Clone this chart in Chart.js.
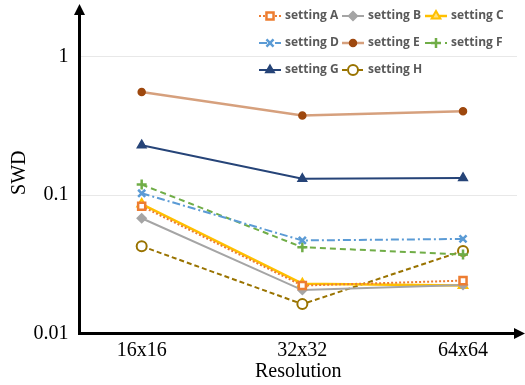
<!DOCTYPE html>
<html>
<head>
<meta charset="utf-8">
<script src="https://cdn.jsdelivr.net/npm/chart.js@4/dist/chart.umd.min.js"></script>
<style>
  html, body { margin: 0; padding: 0; background: #fff; }
  #wrap { width: 525px; height: 385px; }
</style>
</head>
<body>
<div id="wrap"><canvas id="swdChart" width="525" height="385"></canvas></div>
<script>
// Dados
const categories = ['16x16', '32x32', '64x64'];
const tickValues = [0.01, 0.1, 1];
const tickLabels = ['0.01', '0.1', '1'];

const settingA = [0.083, 0.0222, 0.0241];
const settingB = [0.068, 0.0206, 0.0224];
const settingC = [0.086, 0.0229, 0.0222];
const settingD = [0.103, 0.047, 0.0482];
const settingE = [0.556, 0.375, 0.403];
const settingF = [0.119, 0.042, 0.0372];
const settingG = [0.229, 0.131, 0.133];
const settingH = [0.0427, 0.0163, 0.0395];

function pts(arr) {
    return arr.map((v, i) => ({ x: i, y: v }));
}

// Legenda em grade de 3 colunas
const gridLegend = {
    id: 'gridLegend',
    afterDraw(chart) {
        const ctx = chart.ctx;
        const colX = [259, 342, 425];
        const rowY = [16, 43, 70];
        chart.data.datasets.forEach((ds, i) => {
            const x0 = colX[i % 3];
            const y = rowY[Math.floor(i / 3)];
            ctx.save();
            ctx.strokeStyle = ds.borderColor;
            ctx.lineWidth = ds.borderWidth;
            ctx.setLineDash(ds.borderDash || []);
            ctx.beginPath();
            ctx.moveTo(x0, y);
            ctx.lineTo(x0 + 22, y);
            ctx.stroke();
            ctx.setLineDash([]);
            ctx.fillStyle = ds.pointBackgroundColor;
            ctx.strokeStyle = ds.pointBorderColor;
            ctx.lineWidth = ds.pointBorderWidth;
            Chart.helpers.drawPoint(ctx, {
                pointStyle: ds.pointStyle,
                radius: ds.pointRadius,
                borderWidth: ds.pointBorderWidth,
                rotation: 0
            }, x0 + 11, y);
            ctx.fillStyle = '#595959';
            ctx.font = 'bold 12px "Open Sans"';
            ctx.textBaseline = 'middle';
            ctx.textAlign = 'left';
            ctx.fillText(ds.label, x0 + 26, y);
            ctx.restore();
        });
    }
};

// Setas dos eixos
const axisArrows = {
    id: 'axisArrows',
    afterDraw(chart) {
        const ctx = chart.ctx;
        const a = chart.chartArea;
        ctx.save();
        ctx.fillStyle = '#000';
        ctx.beginPath();
        ctx.moveTo(a.left, 4);
        ctx.lineTo(a.left - 5.5, 15);
        ctx.lineTo(a.left + 5.5, 15);
        ctx.closePath();
        ctx.fill();
        ctx.fillRect(a.left - 1.5, 14, 3, a.top - 13);
        ctx.beginPath();
        ctx.moveTo(525, a.bottom);
        ctx.lineTo(514, a.bottom - 5.5);
        ctx.lineTo(514, a.bottom + 5.5);
        ctx.closePath();
        ctx.fill();
        ctx.fillRect(a.right - 1, a.bottom - 1.5, 514 - a.right + 2, 3);
        ctx.restore();
    }
};

function serie(label, data, color, opts) {
    return Object.assign({
        label: label,
        data: pts(data),
        borderColor: color,
        borderWidth: 2,
        pointBackgroundColor: color,
        pointBorderColor: color,
        pointBorderWidth: 1.5,
        pointRadius: 4,
        pointHoverRadius: 4,
        fill: false,
        tension: 0
    }, opts);
}

const datasets = [
    serie('setting A', settingA, '#ED7D31', { borderDash: [2, 2], pointStyle: 'rect', pointBackgroundColor: '#fff', pointBorderWidth: 2.5, pointRadius: 5 }),
    serie('setting B', settingB, '#A5A5A5', { pointStyle: 'rectRot', pointRadius: 4.5 }),
    serie('setting C', settingC, '#FFC000', { borderWidth: 2.5, pointStyle: 'triangle', pointBackgroundColor: '#FFE080', pointRadius: 5, pointBorderWidth: 2 }),
    serie('setting D', settingD, '#5B9BD5', { borderDash: [8, 3, 2, 3], pointStyle: 'crossRot', pointRadius: 5, pointBorderWidth: 2.5 }),
    serie('setting E', settingE, 'rgba(197, 120, 70, 0.7)', { borderWidth: 2.5, pointStyle: 'circle', pointBackgroundColor: '#9E480E', pointBorderColor: '#9E480E', pointRadius: 3.5 }),
    serie('setting F', settingF, '#70AD47', { borderDash: [6, 4], pointStyle: 'cross', pointRadius: 5, pointBorderWidth: 2.5 }),
    serie('setting G', settingG, '#264478', { pointStyle: 'triangle', pointRadius: 5 }),
    serie('setting H', settingH, '#997300', { borderDash: [5, 3], pointStyle: 'circle', pointBackgroundColor: '#fff', pointRadius: 5, pointBorderWidth: 2 })
];

const serif = '"Liberation Serif", "Times New Roman", serif';

const ctx = document.getElementById('swdChart').getContext('2d');
new Chart(ctx, {
    type: 'line',
    data: { datasets: datasets },
    options: {
        responsive: false,
        animation: false,
        layout: { padding: { top: 12, right: 8, left: 0, bottom: 0 } },
        plugins: {
            legend: { display: false },
            tooltip: { enabled: false }
        },
        scales: {
            x: {
                type: 'linear',
                min: -0.387,
                max: 2.336,
                afterBuildTicks: (scale) => {
                    scale.ticks = categories.map((c, i) => ({ value: i }));
                },
                afterFit: (scale) => {
                    scale.height = 51.5;
                    scale.paddingLeft = 0;
                    scale.paddingRight = 0;
                },
                ticks: {
                    padding: 5,
                    color: '#000',
                    font: { family: serif, size: 20 },
                    callback: (v) => categories[v]
                },
                grid: { display: false, drawTicks: false },
                border: { color: '#000', width: 3 },
                title: {
                    display: true,
                    text: 'Resolution',
                    color: '#000',
                    font: { family: serif, size: 20 },
                    padding: { top: 0, bottom: 1 }
                }
            },
            y: {
                type: 'logarithmic',
                min: 0.01,
                max: 2.1,
                afterBuildTicks: (scale) => {
                    scale.ticks = tickValues.map(v => ({ value: v }));
                },
                afterFit: (scale) => {
                    scale.width = 79.5;
                    scale.paddingTop = 0;
                    scale.paddingBottom = 0;
                },
                ticks: {
                    padding: 11,
                    color: '#000',
                    font: { family: serif, size: 20 },
                    callback: (v) => tickLabels[tickValues.indexOf(v)]
                },
                grid: { color: '#e8e8e8', lineWidth: 1, drawTicks: false },
                border: { color: '#000', width: 3 },
                title: {
                    display: true,
                    text: 'SWD',
                    color: '#000',
                    font: { family: serif, size: 20 },
                    padding: { top: 8, bottom: 0 }
                }
            }
        }
    },
    plugins: [gridLegend, axisArrows]
});
</script>
</body>
</html>
